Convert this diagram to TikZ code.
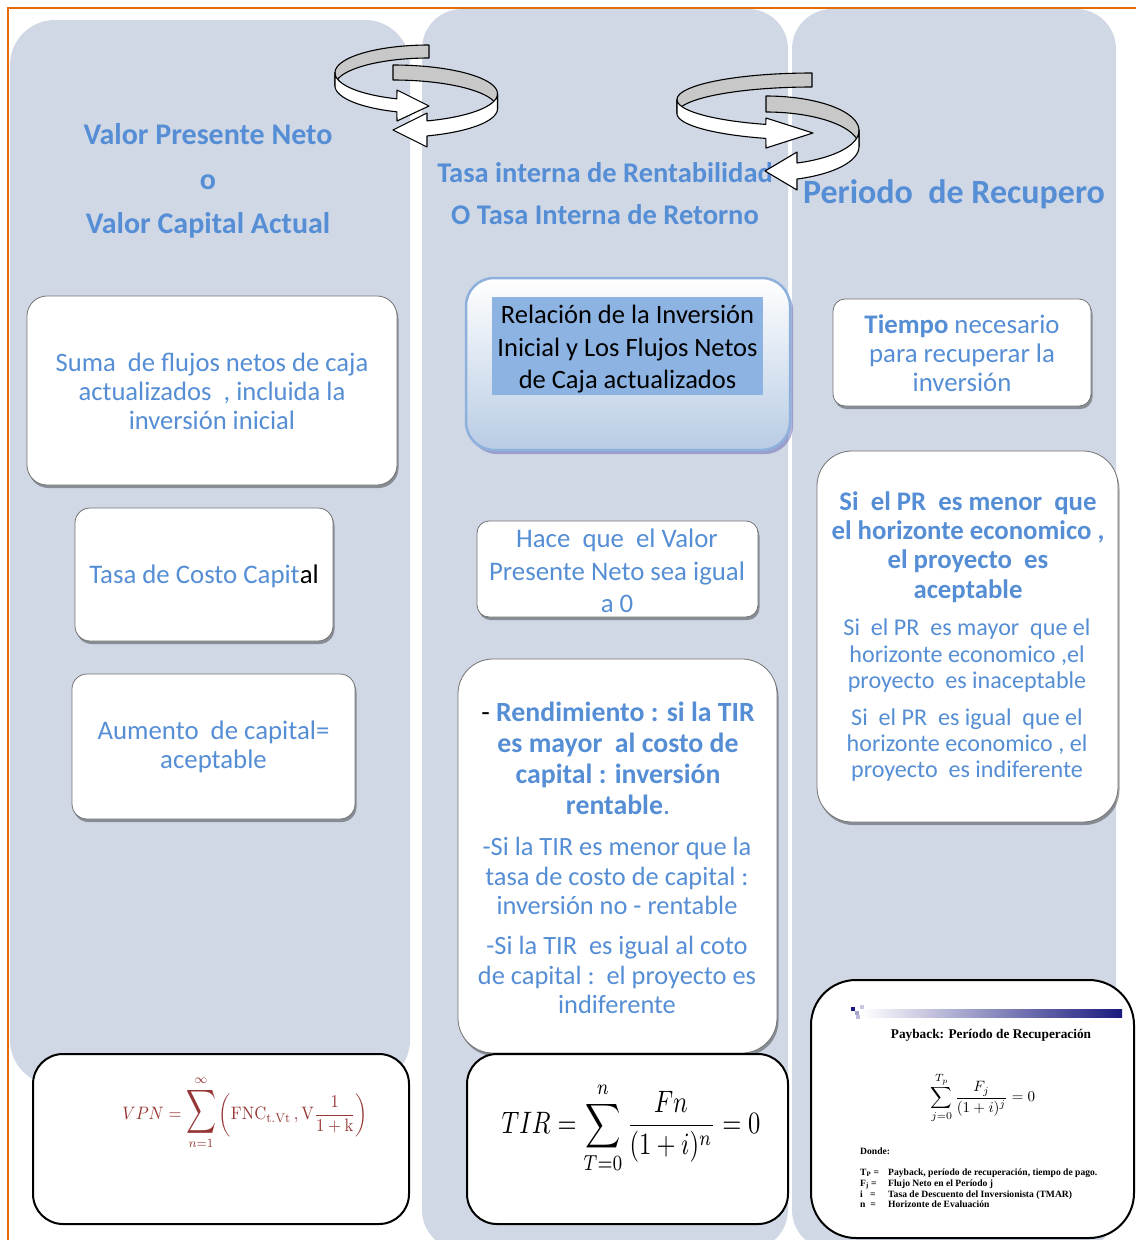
\documentclass[tikz,border=0pt]{standalone}
\usepackage[no-math]{fontspec}
\setmainfont{Carlito}
\newfontfamily\pbfont{Liberation Serif}
\usetikzlibrary{shadows}
\definecolor{colbg}{RGB}{208,216,230}
\definecolor{txtblue}{RGB}{85,142,213}
\definecolor{bordergray}{RGB}{115,115,115}
\definecolor{frameorange}{RGB}{228,108,10}
\definecolor{arrowgray}{RGB}{200,200,200}
\definecolor{formred}{RGB}{149,55,53}
\definecolor{dborder}{RGB}{141,176,220}
\definecolor{dfill}{RGB}{141,179,226}
\definecolor{dbottom}{RGB}{184,204,228}
\definecolor{navybar}{RGB}{26,26,128}
\newcommand{\bigsum}{\mathop{\scalebox{1.25}[1.7]{$\displaystyle\sum$}}\limits}
\tikzset{
  card/.style={draw=bordergray, line width=0.8pt, fill=white, inner sep=0pt,
    drop shadow={shadow xshift=1.5pt, shadow yshift=-3pt, fill=black, opacity=0.35}},
  formbox/.style={draw=black, line width=2pt, fill=white, inner sep=0pt},
  txt/.style={inner sep=0pt, align=center, text=txtblue},
  ribbonback/.style={fill=arrowgray, draw=black, line width=1.1pt, line join=round},
  ribbonfront/.style={fill=white, draw=black, line width=1.1pt, line join=round},
  pbrow/.style={anchor=base west, inner sep=0pt, font=\pbfont\bfseries\fontsize{9.6}{11}\selectfont},
}
\begin{document}
\begin{tikzpicture}[x=1pt,y=-1pt]
\useasboundingbox (0,0) rectangle (1136,1240);
\fill[white] (0,0) rectangle (1136,1240);
% columns
\fill[colbg, rounded corners=45pt] (10,20) rectangle (410,1085);
\fill[colbg, rounded corners=40pt] (422,9) rectangle (788,1250);
\fill[colbg, rounded corners=40pt] (792,9) rectangle (1116,1250);
% frame
\draw[frameorange, line width=2pt] (8,1240) -- (8,8) -- (1136,8);

% headers
\node[txt, font=\bfseries\fontsize{30}{44.5}\selectfont] (h1) at (208,181) {Valor Presente Neto\\o\\Valor Capital Actual};
\node[txt, font=\bfseries\fontsize{28.5}{42}\selectfont] (h2) at (605,194) {Tasa interna de Rentabilidad\\O Tasa Interna de Retorno};
\node[txt, font=\bfseries\fontsize{34}{38}\selectfont] (h3) at (954,194) {Periodo\ \ de Recupero};

% column 1 boxes
\node[card, rounded corners=20pt, minimum width=370pt, minimum height=189pt] (boxA) at (212,390.5) {};
\node[txt, font=\fontsize{26.6}{29}\selectfont] (tA) at (212,391) {Suma\ \ de flujos netos de caja\\actualizados\ \ , incluida la\\inversión inicial};
\node[card, rounded corners=15pt, minimum width=258pt, minimum height=133pt] (boxB) at (204,574.5) {};
\node[txt, font=\fontsize{26.8}{29}\selectfont] (tB) at (204,576) {Tasa de Costo Capit{\color{black}al}};
\node[card, rounded corners=15pt, minimum width=283pt, minimum height=145pt] (boxC) at (213.5,746.5) {};
\node[txt, font=\fontsize{26.8}{29}\selectfont] (tC) at (213.5,747) {Aumento\ \ de capital=\\aceptable};
\node[formbox, rounded corners=30pt, minimum width=376pt, minimum height=170pt] (vpn) at (221,1139) {};
\node[inner sep=0pt, text=formred, font=\fontsize{10}{12}\selectfont] (vpnf) at (245,1113)
  {\scalebox{1.66}[1.8]{$\displaystyle VPN=\bigsum_{n=1}^{\infty}\left(\mathrm{FNC}_{\mathrm{t.Vt}}\,,\mathrm{V}\frac{1}{1+\mathrm{k}}\right)$}};

% column 2 boxes
\node[draw=dborder, line width=2.5pt, rounded corners=28pt, top color=white, bottom color=dbottom,
  minimum width=324pt, minimum height=172pt, inner sep=0pt,
  drop shadow={shadow xshift=3pt, shadow yshift=-4pt, fill=black!50!blue!60, opacity=0.5}] (boxD) at (628,364) {};
\node[fill=dfill, inner sep=0pt, minimum width=271pt, minimum height=98pt] (dinner) at (627.5,346) {};
\node[inner sep=0pt, align=center, font=\fontsize{26.5}{32.5}\selectfont, text=black] (tD) at (627.5,349.5)
  {Relación de la Inversión\\Inicial y Los Flujos Netos\\de Caja actualizados};
\node[card, rounded corners=12pt, minimum width=281pt, minimum height=96pt] (boxE) at (617.5,569) {};
\node[txt, font=\fontsize{26.8}{32.5}\selectfont] (tE) at (617,571) {Hace\ \ que\ \ el Valor\\Presente Neto sea igual\\a 0};
\node[card, rounded corners=35pt, minimum width=319pt, minimum height=394pt] (boxF) at (617.5,856) {};
\node[txt, font=\bfseries\fontsize{27.8}{31}\selectfont] (tF1) at (618,758)
  {{\color{black}\mdseries -} Rendimiento : si la TIR\\es mayor\ \ al costo de\\capital : inversión\\rentable{\mdseries .}};
\node[txt, font=\fontsize{26.4}{29.5}\selectfont] (tF2) at (617,876) {-Si la TIR es menor que la\\tasa de costo de capital :\\inversión no - rentable};
\node[txt, font=\fontsize{26.4}{29.5}\selectfont] (tF3) at (617,975) {-Si la TIR\ \ es igual al coto\\de capital :\ \ el proyecto es\\indiferente};
\node[formbox, rounded corners=30pt, minimum width=321pt, minimum height=170pt] (tir) at (627.5,1139) {};
\node[inner sep=0pt, font=\fontsize{10}{12}\selectfont] (tirf) at (631,1128)
  {\scalebox{2.45}[3.1]{$\displaystyle TIR=\sum_{T=0}^{n}\frac{Fn}{(1+i)^{n}}=0$}};

% column 3 boxes
\node[card, rounded corners=12pt, minimum width=258pt, minimum height=107pt] (boxG) at (962,352.5) {};
\node[txt, font=\fontsize{26.8}{29}\selectfont] (tG) at (962,353) {\textbf{Tiempo} necesario\\para recuperar la\\inversión};
\node[card, rounded corners=35pt, minimum width=301pt, minimum height=371pt] (boxH) at (967.5,636.5) {};
\node[txt, font=\bfseries\fontsize{26.8}{29.3}\selectfont] (tH1) at (968,547) {Si\ \ el PR\ \ es menor\ \ que\\el horizonte economico ,\\el proyecto\ \ es\\aceptable};
\node[txt, font=\fontsize{24.1}{26.5}\selectfont] (tH2) at (967,656) {Si\ \ el PR\ \ es mayor\ \ que el\\horizonte economico ,el\\proyecto\ \ es inaceptable};
\node[txt, font=\fontsize{24.1}{26}\selectfont] (tH3) at (967,745.5) {Si\ \ el PR\ \ es igual\ \ que el\\horizonte economico , el\\proyecto\ \ es indiferente};

% payback box
\node[formbox, rounded corners=45pt, minimum width=323pt, minimum height=258pt] (pb) at (972.5,1109) {};
\shade[left color=white, right color=navybar] (862,1009) rectangle (1122,1017);
\fill[navybar] (851,1007) rectangle (855,1011);
\fill[navybar!40] (855,1011) rectangle (859,1015);
\fill[navybar!25] (860,1005) rectangle (864,1009);
\fill[navybar!30] (856,1015) rectangle (860,1019);
\node[inner sep=0pt, font=\pbfont\bfseries\fontsize{13.3}{15}\selectfont] (pbtitle) at (991,1035) {Payback: Período de Recuperación};
\node[inner sep=0pt, font=\fontsize{10}{12}\selectfont] (pbform) at (983,1098) {\scalebox{1.5}{$\displaystyle\sum_{j=0}^{T_p}\frac{F_j}{(1+i)^j}=0$}};
\node[pbrow] (donde) at (860,1154) {Donde:};
\node[pbrow] (r1a) at (860,1175) {T\textsubscript{P} =};
\node[pbrow] (r1b) at (888,1175) {Payback, período de recuperación, tiempo de pago.};
\node[pbrow] (r2a) at (860,1186) {F\textsubscript{j} =};
\node[pbrow] (r2b) at (888,1186) {Flujo Neto en el Período j};
\node[pbrow] (r3a) at (860,1197) {i\ \ \ =};
\node[pbrow] (r3b) at (888,1197) {Tasa de Descuento del Inversionista (TMAR)};
\node[pbrow] (r4a) at (860,1207) {n\ \ =};
\node[pbrow] (r4b) at (888,1207) {Horizonte de Evaluación};

% circular arrows, left pair
\path[ribbonback] plot[domain=270:180, samples=40] ({429+94*cos(\x)},{72.75+27.75*sin(\x)})
  -- plot[domain=180:270, samples=40] ({429+94*cos(\x)},{85.75+27.75*sin(\x)}) -- cycle;
\path[ribbonfront] plot[domain=180:110, samples=40] ({429+94*cos(\x)},{72.75+27.75*sin(\x)})
  -- (397,90) -- (429,106) -- (397,121)
  -- plot[domain=110:180, samples=40] ({429+94*cos(\x)},{85.75+27.75*sin(\x)}) -- cycle;
\path[ribbonback] plot[domain=270:360, samples=40] ({393+104.5*cos(\x)},{93.75+28.75*sin(\x)})
  -- plot[domain=360:270, samples=40] ({393+104.5*cos(\x)},{108.75+28.75*sin(\x)}) -- cycle;
\path[ribbonfront] plot[domain=0:71, samples=40] ({393+104.5*cos(\x)},{93.75+28.75*sin(\x)})
  -- (427,113) -- (393,130) -- (427,147)
  -- plot[domain=71:0, samples=40] ({393+104.5*cos(\x)},{108.75+28.75*sin(\x)}) -- cycle;
% circular arrows, right pair
\path[ribbonback] plot[domain=270:180, samples=40] ({812+135*cos(\x)},{99.5+26.5*sin(\x)})
  -- plot[domain=180:270, samples=40] ({812+135*cos(\x)},{113.5+26.5*sin(\x)}) -- cycle;
\path[ribbonfront] plot[domain=180:110, samples=40] ({812+135*cos(\x)},{99.5+26.5*sin(\x)})
  -- (766,118) -- (813,133) -- (766,148)
  -- plot[domain=110:180, samples=40] ({812+135*cos(\x)},{113.5+26.5*sin(\x)}) -- cycle;
\path[ribbonback] plot[domain=270:360, samples=40] ({766+93*cos(\x)},{130.5+34.5*sin(\x)})
  -- plot[domain=360:270, samples=40] ({766+93*cos(\x)},{146.5+34.5*sin(\x)}) -- cycle;
\path[ribbonfront] plot[domain=0:70.5, samples=40] ({766+93*cos(\x)},{130.5+34.5*sin(\x)})
  -- (797,152) -- (765,171) -- (797,190)
  -- plot[domain=70.5:0, samples=40] ({766+93*cos(\x)},{146.5+34.5*sin(\x)}) -- cycle;
\end{tikzpicture}
\end{document}
